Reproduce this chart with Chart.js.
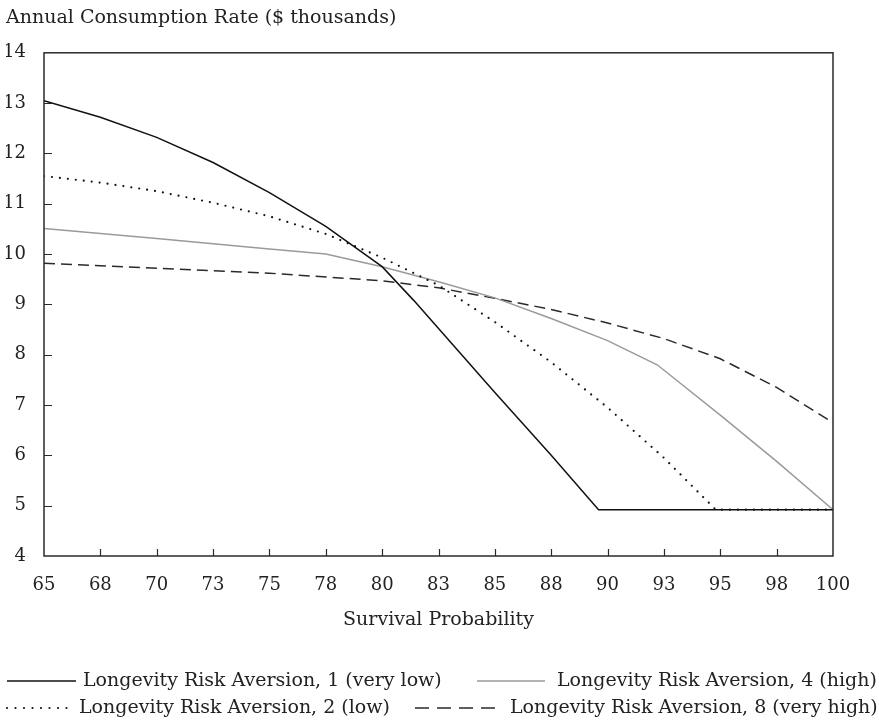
<!DOCTYPE html>
<html>
<head>
<meta charset="utf-8">
<script src="https://cdn.jsdelivr.net/npm/chart.js@4.4.1/dist/chart.umd.min.js"></script>
<style>
  html, body { margin: 0; padding: 0; background: #fff; }
</style>
</head>
<body>
<canvas id="consumptionChart" width="879" height="720"></canvas>
<script>
// values
const seriesLabels = [
    'Longevity Risk Aversion, 1 (very low)',
    'Longevity Risk Aversion, 2 (low)',
    'Longevity Risk Aversion, 4 (high)',
    'Longevity Risk Aversion, 8 (very high)'
];

const veryLowX = [65, 67.5, 70, 72.5, 75, 77.5, 80, 81.4, 85, 87.5, 89.6, 100];
const veryLowY = [13.05, 12.72, 12.32, 11.82, 11.22, 10.55, 9.75, 9.08, 7.25, 6.0, 4.92, 4.92];

const lowX = [65, 67.5, 70, 72.5, 75, 77.5, 80, 82.5, 85, 87.5, 90, 92.5, 94.8, 100];
const lowY = [11.55, 11.42, 11.25, 11.02, 10.75, 10.4, 9.93, 9.38, 8.65, 7.85, 6.95, 5.95, 4.92, 4.92];

const highX = [65, 70, 75, 77.5, 80, 82.5, 85, 87.5, 90, 92.2, 95, 97.5, 100];
const highY = [10.51, 10.31, 10.1, 10.0, 9.75, 9.45, 9.13, 8.72, 8.28, 7.8, 6.8, 5.88, 4.92];

const veryHighX = [65, 70, 75, 80, 82.5, 85, 87.5, 90, 92.5, 95, 97.5, 100];
const veryHighY = [9.82, 9.72, 9.62, 9.47, 9.33, 9.12, 8.9, 8.63, 8.32, 7.92, 7.35, 6.65];

const xTickLabels = ['65', '68', '70', '73', '75', '78', '80', '83', '85', '88', '90', '93', '95', '98', '100'];
const yTickValues = [4, 5, 6, 7, 8, 9, 10, 11, 12, 13, 14];

const serif = 'DejaVu Serif';
const textColor = '#222';

function toPoints(xs, ys) {
    return xs.map((x, i) => ({ x: x, y: ys[i] }));
}

// box around the plot and the short inward tick marks
const framePlugin = {
    id: 'frame',
    afterDatasetsDraw(chart) {
        const { ctx, chartArea: a, scales: { x, y } } = chart;
        ctx.save();
        ctx.strokeStyle = '#2a2a2a';
        ctx.lineWidth = 1.5;
        ctx.strokeRect(a.left, a.top, a.right - a.left, a.bottom - a.top);
        ctx.lineWidth = 1.2;
        ctx.beginPath();
        yTickValues.slice(1, -1).forEach(v => {
            const py = Math.round(y.getPixelForValue(v)) + 0.5;
            ctx.moveTo(a.left, py);
            ctx.lineTo(a.left + 8, py);
        });
        x.ticks.forEach(t => {
            if (t.value <= x.min || t.value >= x.max) return;
            const px = Math.round(x.getPixelForValue(t.value)) + 0.5;
            ctx.moveTo(px, a.bottom);
            ctx.lineTo(px, a.bottom - 7);
        });
        ctx.stroke();
        ctx.restore();
    }
};

// two-column legend below the axis title
const legendSlots = [
    { ds: 0, x0: 7, x1: 76, tx: 83, y: 681 },
    { ds: 2, x0: 477, x1: 545, tx: 557, y: 681 },
    { ds: 1, x0: 7, x1: 68, tx: 79, y: 708 },
    { ds: 3, x0: 415, x1: 502, tx: 510, y: 708 }
];

const legendPlugin = {
    id: 'bottomLegend',
    afterDraw(chart) {
        const ctx = chart.ctx;
        ctx.save();
        legendSlots.forEach(s => {
            const ds = chart.data.datasets[s.ds];
            ctx.beginPath();
            ctx.strokeStyle = ds.borderColor;
            ctx.lineWidth = ds.borderWidth;
            ctx.lineCap = ds.borderCapStyle || 'butt';
            ctx.setLineDash(ds.legendDash || []);
            ctx.moveTo(s.x0, s.y);
            ctx.lineTo(s.x1, s.y);
            ctx.stroke();
            ctx.setLineDash([]);
            ctx.fillStyle = textColor;
            ctx.font = '19px "' + serif + '"';
            ctx.textBaseline = 'middle';
            ctx.fillText(ds.label, s.tx, s.y);
        });
        ctx.restore();
    }
};

const ctx = document.getElementById('consumptionChart').getContext('2d');

const consumptionChart = new Chart(ctx, {
    type: 'line',
    data: {
        datasets: [{
            label: seriesLabels[0],
            data: toPoints(veryLowX, veryLowY),
            borderColor: '#111',
            borderWidth: 1.5
        }, {
            label: seriesLabels[1],
            data: toPoints(lowX, lowY),
            borderColor: '#111',
            borderWidth: 2.2,
            borderDash: [0, 8],
            borderCapStyle: 'round',
            legendDash: [0, 8.5]
        }, {
            label: seriesLabels[2],
            data: toPoints(highX, highY),
            borderColor: '#9a9a9a',
            borderWidth: 1.5
        }, {
            label: seriesLabels[3],
            data: toPoints(veryHighX, veryHighY),
            borderColor: '#2a2a2a',
            borderWidth: 1.5,
            borderDash: [11, 6],
            legendDash: [14, 8]
        }]
    },
    options: {
        responsive: false,
        animation: false,
        elements: {
            point: { radius: 0 },
            line: { tension: 0, fill: false }
        },
        layout: {
            padding: { left: 6, right: 46, top: 0, bottom: 85 }
        },
        scales: {
            x: {
                type: 'linear',
                min: 65,
                max: 100,
                grid: { display: false, drawTicks: false },
                border: { display: false },
                afterFit: scale => { scale.height = 79; },
                ticks: {
                    stepSize: 2.5,
                    autoSkip: false,
                    maxRotation: 0,
                    padding: 19,
                    color: textColor,
                    font: { family: serif, size: 18 },
                    callback: (value, index) => xTickLabels[index]
                },
                title: {
                    display: true,
                    text: 'Survival Probability',
                    color: textColor,
                    font: { family: serif, size: 19 },
                    padding: { top: 4, bottom: 4 }
                }
            },
            y: {
                min: 4,
                max: 14,
                grid: { display: false, drawTicks: false },
                border: { display: false },
                afterFit: scale => { scale.width = 38; },
                ticks: {
                    stepSize: 1,
                    padding: 18,
                    color: textColor,
                    font: { family: serif, size: 18 }
                }
            }
        },
        plugins: {
            legend: { display: false },
            tooltip: { enabled: false },
            title: {
                display: true,
                text: 'Annual Consumption Rate ($ thousands)',
                align: 'start',
                color: textColor,
                font: { family: serif, size: 19, weight: 'normal' },
                padding: { top: 7, bottom: 23 }
            }
        }
    },
    plugins: [framePlugin, legendPlugin]
});
</script>
</body>
</html>
